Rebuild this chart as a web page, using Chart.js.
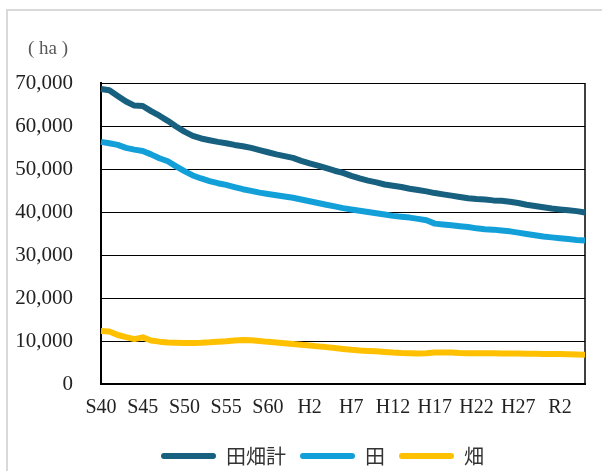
<!DOCTYPE html>
<html>
<head>
<meta charset="utf-8">
<script src="https://cdn.jsdelivr.net/npm/chart.js@4.4.1/dist/chart.umd.min.js"></script>
<style>
  html, body { margin: 0; padding: 0; background: #fff; }
  canvas { display: block; }
</style>
</head>
<body>
<canvas id="chart" width="602" height="471"></canvas>
<script>
// 年次（昭和40年〜令和5年）
const categories = [
  'S40','S41','S42','S43','S44','S45','S46','S47','S48','S49',
  'S50','S51','S52','S53','S54','S55','S56','S57','S58','S59',
  'S60','S61','S62','S63','H1','H2','H3','H4','H5','H6',
  'H7','H8','H9','H10','H11','H12','H13','H14','H15','H16',
  'H17','H18','H19','H20','H21','H22','H23','H24','H25','H26',
  'H27','H28','H29','H30','R1','R2','R3','R4','R5'
];

// 耕地面積（ha）
const totalArea = [
  68600, 68300, 67000, 65700, 64750, 64650, 63450, 62400, 61200, 59900,
  58700, 57700, 57100, 56700, 56300, 56000, 55600, 55300, 54900, 54400,
  53900, 53400, 53000, 52600, 51900, 51300, 50800, 50200, 49600, 49100,
  48400, 47800, 47300, 46900, 46400, 46100, 45800, 45400, 45100, 44800,
  44400, 44100, 43800, 43500, 43200, 43000, 42900, 42700, 42600, 42400,
  42100, 41700, 41400, 41100, 40800, 40600, 40400, 40200, 39900
];
const paddyArea = [
  56300, 56000, 55600, 54900, 54500, 54200, 53400, 52500, 51800, 50600,
  49500, 48500, 47800, 47200, 46700, 46300, 45800, 45300, 44900, 44500,
  44200, 43900, 43600, 43300, 42900, 42500, 42100, 41700, 41300, 40900,
  40600, 40300, 40000, 39700, 39400, 39100, 38900, 38700, 38400, 38100,
  37300, 37100, 36900, 36700, 36500, 36200, 36000, 35900, 35700, 35500,
  35200, 34900, 34600, 34300, 34100, 33900, 33700, 33500, 33400
];
const fieldArea = [
  12300, 12200, 11400, 10900, 10450, 10850, 10100, 9850, 9650, 9600,
  9550, 9550, 9600, 9700, 9850, 9950, 10100, 10230, 10150, 10000,
  9800, 9650, 9480, 9300, 9140, 8950, 8750, 8580, 8350, 8150,
  7950, 7800, 7700, 7600, 7450, 7300, 7200, 7150, 7100, 7150,
  7300, 7350, 7300, 7200, 7150, 7150, 7150, 7150, 7100, 7100,
  7100, 7050, 7050, 7000, 7000, 6950, 6900, 6850, 6800
];

const seriesNames = ['田畑計', '田', '畑'];
const seriesColors = ['#17607f', '#13a0d9', '#ffc000'];
const unitLabel = '( ha )';

const PLOT_LEFT = 101, PLOT_BOTTOM = 384;
const LEGEND_SHIFT_X = 30, LEGEND_SHIFT_Y = 5;

// 外枠・単位表記・プロット右枠・凡例位置
const decorations = {
  id: 'decorations',
  afterLayout(chart) {
    const lg = chart.legend;
    lg.left += LEGEND_SHIFT_X;
    lg.right += LEGEND_SHIFT_X;
    lg.top += LEGEND_SHIFT_Y;
    lg.bottom += LEGEND_SHIFT_Y;
  },
  beforeDraw(chart) {
    const ctx = chart.ctx;
    ctx.save();
    ctx.fillStyle = '#fff';
    ctx.fillRect(0, 0, chart.width, chart.height);
    ctx.strokeStyle = '#d9d9d9';
    ctx.lineWidth = 2;
    ctx.strokeRect(7, 10, 800, 700);
    ctx.restore();
  },
  beforeDatasetsDraw(chart) {
    const { ctx, chartArea: a } = chart;
    ctx.save();
    ctx.strokeStyle = '#000';
    ctx.lineWidth = 1.5;
    ctx.beginPath();
    ctx.moveTo(a.right, a.top);
    ctx.lineTo(a.right, a.bottom);
    ctx.stroke();
    ctx.restore();
  },
  afterDraw(chart) {
    const ctx = chart.ctx;
    ctx.save();
    ctx.fillStyle = '#595959';
    ctx.font = '19px "Liberation Serif", serif';
    ctx.textBaseline = 'alphabetic';
    ctx.fillText(unitLabel, 28, 54);
    ctx.restore();
  }
};

const datasets = [totalArea, paddyArea, fieldArea].map((values, i) => ({
  label: seriesNames[i],
  data: values,
  borderColor: seriesColors[i],
  backgroundColor: seriesColors[i],
  borderWidth: 6,
  pointRadius: 0,
  pointHoverRadius: 0,
  tension: 0,
  fill: false,
  borderJoinStyle: 'round'
}));

new Chart(document.getElementById('chart'), {
  type: 'line',
  data: { labels: categories, datasets },
  plugins: [decorations],
  options: {
    responsive: false,
    animation: false,
    events: [],
    layout: { padding: { top: 83, left: 0, right: 17, bottom: 0 } },
    plugins: {
      tooltip: { enabled: false },
      legend: {
        position: 'bottom',
        labels: {
          boxWidth: 55,
          boxHeight: 6,
          useBorderRadius: true,
          borderRadius: 3,
          padding: 14,
          color: '#333',
          font: { family: '"Noto Sans CJK JP", sans-serif', size: 20 },
          generateLabels(chart) {
            return chart.data.datasets.map((ds, i) => ({
              text: ds.label,
              fillStyle: ds.borderColor,
              strokeStyle: ds.borderColor,
              lineWidth: 0,
              borderRadius: 3,
              hidden: false,
              datasetIndex: i,
              fontColor: '#333'
            }));
          }
        }
      }
    },
    scales: {
      x: {
        type: 'category',
        offset: false,
        grid: { display: false, drawTicks: false },
        border: { display: true, color: '#000', width: 2 },
        ticks: {
          autoSkip: false,
          maxRotation: 0,
          minRotation: 0,
          padding: 12,
          color: '#222',
          font: { family: '"Liberation Serif", serif', size: 20 },
          callback(value, index) {
            return index % 5 === 0 ? categories[index] : '';
          }
        },
        afterFit(scale) {
          scale.height = scale.chart.height - scale.chart.legend.height - PLOT_BOTTOM;
        }
      },
      y: {
        min: 0,
        max: 70000,
        grid: { color: '#000', lineWidth: 1, drawTicks: false },
        border: { display: true, color: '#000', width: 2 },
        ticks: {
          stepSize: 10000,
          padding: 28,
          color: '#222',
          font: { family: '"Liberation Serif", serif', size: 21 },
          callback(value) { return value.toLocaleString('en-US'); }
        },
        afterFit(scale) {
          scale.width = PLOT_LEFT;
        }
      }
    }
  }
});
</script>
</body>
</html>
